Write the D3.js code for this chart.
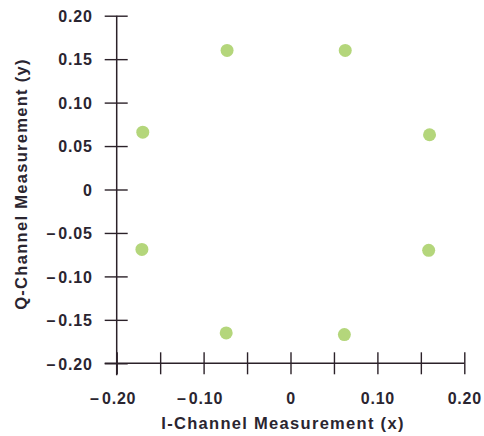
<!DOCTYPE html>
<html>
<head>
<meta charset="utf-8">
<script src="https://cdn.jsdelivr.net/npm/d3@7"></script>
<style>
  html, body { margin: 0; padding: 0; background: #ffffff; }
  svg { display: block; }
  text { font-family: "Liberation Sans", Arial, Helvetica, sans-serif; font-weight: bold; fill: #2a2530; }
</style>
</head>
<body>
<svg id="chart" width="484" height="436"></svg>
<script>
// Constellation points: I (x) and Q (y) measurements
const iValues = [-0.073, 0.063, -0.170, 0.160, -0.171, 0.159, -0.074, 0.062];
const qValues = [0.160, 0.160, 0.066, 0.063, -0.069, -0.070, -0.165, -0.167];

// Axis ticks and labels
const tickValues = [-0.20, -0.15, -0.10, -0.05, 0, 0.05, 0.10, 0.15, 0.20];
const yLabelValues = [-0.20, -0.15, -0.10, -0.05, 0, 0.05, 0.10, 0.15, 0.20];
const xLabelValues = [-0.20, -0.10, 0, 0.10, 0.20];
const xTitle = "I-Channel Measurement (x)";
const yTitle = "Q-Channel Measurement (y)";

const svg = d3.select("#chart");
const axisColor = "#2b2129";
const dotColor = "#b4d67b";

const x = d3.scaleLinear().domain([-0.2, 0.2]).range([116.7, 464.3]);
const y = d3.scaleLinear().domain([-0.2, 0.2]).range([363.3, 15.7]);

const fmt = v => v === 0 ? "0" : (v < 0 ? "\u2013\u200a" : "") + Math.abs(v).toFixed(2);
const hasLabel = (list, v) => list.some(l => Math.abs(l - v) < 1e-9);

// Y axis
const yAxis = d3.axisLeft(y)
  .tickValues(tickValues)
  .tickSize(12)
  .tickPadding(12)
  .tickFormat(v => hasLabel(yLabelValues, v) ? fmt(v) : "");
const gy = svg.append("g").attr("transform", `translate(${x(-0.2)},0)`).call(yAxis);
gy.select(".domain").remove();
gy.selectAll(".tick line").attr("x1", 11).attr("x2", -12).attr("stroke", axisColor).attr("stroke-width", 1.4);
gy.selectAll(".tick text")
  .attr("font-size", 16).attr("letter-spacing", 0.8)
  .attr("fill", "#2a2530").attr("dy", "0.36em");

// X axis
const xAxis = d3.axisBottom(x)
  .tickValues(tickValues)
  .tickSize(11)
  .tickPadding(14)
  .tickFormat(v => hasLabel(xLabelValues, v) ? fmt(v) : "");
const gx = svg.append("g").attr("transform", `translate(0,${y(-0.2)})`).call(xAxis);
gx.select(".domain").remove();
gx.selectAll(".tick line").attr("y1", -11).attr("y2", 11).attr("stroke", axisColor).attr("stroke-width", 1.4);
gx.selectAll(".tick text")
  .attr("font-size", 16).attr("letter-spacing", 0.8)
  .attr("fill", "#2a2530")
  .attr("dx", d => d < 0 ? -4 : 0)
  .attr("dy", "1.0em");

// Axis lines (each crosses the other by a tick length)
svg.append("line")
  .attr("x1", x(-0.2)).attr("x2", x(-0.2))
  .attr("y1", y(0.2)).attr("y2", y(-0.2) + 12)
  .attr("stroke", axisColor).attr("stroke-width", 1.5);
svg.append("line")
  .attr("x1", x(-0.2) - 12).attr("x2", x(0.2))
  .attr("y1", y(-0.2)).attr("y2", y(-0.2))
  .attr("stroke", axisColor).attr("stroke-width", 1.5);

// Points
svg.append("g").selectAll("circle")
  .data(iValues.map((v, i) => [v, qValues[i]]))
  .join("circle")
  .attr("cx", d => x(d[0]))
  .attr("cy", d => y(d[1]))
  .attr("r", 6.5)
  .attr("fill", dotColor);

// Titles
svg.append("text")
  .attr("x", 283).attr("y", 429)
  .attr("text-anchor", "middle")
  .attr("font-size", 16.5).attr("letter-spacing", 1.3)
  .text(xTitle);
svg.append("text")
  .attr("transform", "translate(27,184) rotate(-90)")
  .attr("text-anchor", "middle")
  .attr("font-size", 16.5).attr("letter-spacing", 1.3)
  .text(yTitle);
</script>
</body>
</html>
